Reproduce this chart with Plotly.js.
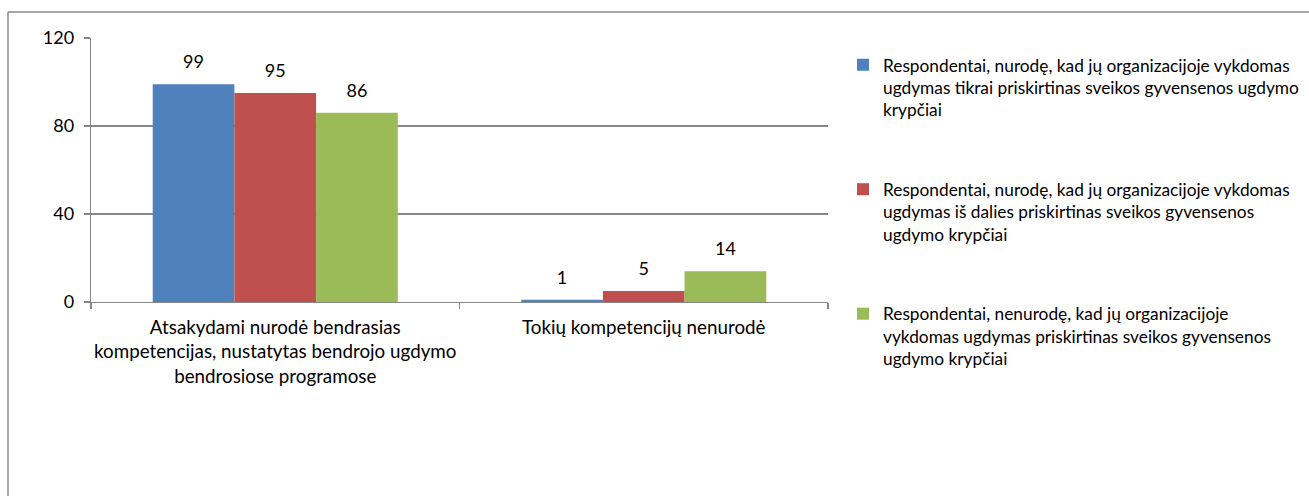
<!DOCTYPE html>
<html>
<head>
<meta charset="utf-8">
<script src="https://cdn.plot.ly/plotly-3.0.1.min.js"></script>
<style>html,body{margin:0;padding:0;background:#fff;}#chart{width:1309px;height:496px;}</style>
</head>
<body>
<div id="chart"></div>
<script>
var categories = [
  "Atsakydami nurodė bendrasias<br>kompetencijas, nustatytas bendrojo ugdymo<br>bendrosiose programose",
  "Tokių kompetencijų nenurodė"
];
var seriesNames = [
  "Respondentai, nurodę, kad jų organizacijoje vykdomas<br>ugdymas tikrai priskirtinas sveikos gyvensenos ugdymo<br>krypčiai",
  "Respondentai, nurodę, kad jų organizacijoje vykdomas<br>ugdymas iš dalies priskirtinas sveikos gyvensenos<br>ugdymo krypčiai",
  "Respondentai, nenurodę, kad jų organizacijoje<br>vykdomas ugdymas priskirtinas sveikos gyvensenos<br>ugdymo krypčiai"
];
var valuesTikrai = [99, 1];
var valuesIsDalies = [95, 5];
var valuesNenurode = [86, 14];
var colors = ["#4F81BD", "#C0504D", "#9BBB59"];
var yTicks = [0, 40, 80, 120];

var FONT = "Lato, 'Open Sans', sans-serif";
var GAP = 0.335;
var allValues = [valuesTikrai, valuesIsDalies, valuesNenurode];
var traces = [];
allValues.forEach(function(vals, i) {
  traces.push({
    type: "bar",
    name: seriesNames[i],
    x: categories,
    y: vals,
    marker: {color: colors[i], line: {width: 0}},
    legendgroup: "g" + i,
    hoverinfo: "y"
  });
});
// value labels, aligned with the grouped bars
allValues.forEach(function(vals, i) {
  traces.push({
    type: "scatter",
    mode: "markers+text",
    x: categories,
    y: vals,
    text: vals.map(String),
    textposition: "top center",
    textfont: {family: FONT, size: 18, color: "#000"},
    marker: {size: 17, color: "rgba(0,0,0,0)"},
    cliponaxis: false,
    showlegend: false,
    hoverinfo: "skip"
  });
});

// plot area geometry (px)
var W = 1309, H = 496, L = 91, R = 828, T = 38, B = 302;
function px(x) { return (x - L) / (R - L); }
function py(y) { return (B - y) / (B - T); }

var layout = {
  width: W, height: H,
  margin: {l: L, r: W - R, t: T, b: H - B, pad: 0, autoexpand: false},
  paper_bgcolor: "#fff", plot_bgcolor: "#fff",
  font: {family: FONT, size: 18, color: "#000"},
  barmode: "group",
  bargap: GAP,
  bargroupgap: 0,
  scattermode: "group",
  scattergap: GAP,
  showlegend: true,
  legend: {
    x: px(843), y: py(47), xanchor: "left", yanchor: "top",
    valign: "top",
    traceorder: "grouped",
    tracegroupgap: 54,
    maxheight: 600,
    font: {family: FONT, size: 17.3, color: "#000"},
    itemwidth: 30,
    bgcolor: "rgba(0,0,0,0)"
  },
  xaxis: {
    type: "category",
    showline: true, linecolor: "#868686", linewidth: 1.3,
    ticks: "outside", tickson: "boundaries", ticklen: 6, tickcolor: "#868686", tickwidth: 1.3,
    tickangle: 0,
    ticklabelstandoff: 8,
    showgrid: false, zeroline: false,
    tickfont: {family: FONT, size: 18.8, color: "#000"}
  },
  yaxis: {
    range: [0, 120],
    tickvals: yTicks, ticktext: yTicks.map(String),
    showline: true, linecolor: "#868686", linewidth: 1.3,
    ticks: "outside", ticklen: 6, tickcolor: "#868686", tickwidth: 1.3,
    ticklabelstandoff: 6,
    showgrid: true, gridcolor: "#868686", gridwidth: 1.3,
    zeroline: false,
    tickfont: {family: FONT, size: 18, color: "#000"}
  },
  shapes: [
    {type: "line", xref: "paper", yref: "paper", x0: px(8), x1: px(1320), y0: py(12), y1: py(12), line: {color: "#8a8a8a", width: 1.5}},
    {type: "line", xref: "paper", yref: "paper", x0: px(8), x1: px(8), y0: py(12), y1: py(510), line: {color: "#8a8a8a", width: 1.5}}
  ]
};

Plotly.newPlot("chart", traces, layout, {displayModeBar: false, staticPlot: true});
</script>
</body>
</html>
